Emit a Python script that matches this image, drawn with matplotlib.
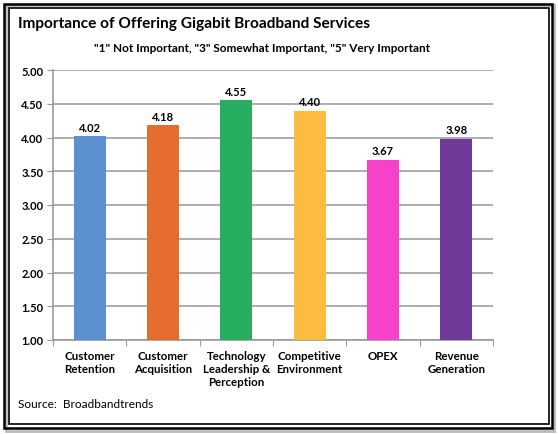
import matplotlib.pyplot as plt
from matplotlib.patches import Rectangle

categories = ["Customer\nRetention", "Customer\nAcquisition", "Technology\nLeadership &\nPerception",
              "Competitive\nEnvironment", "OPEX", "Revenue\nGeneration"]
scores = [4.02, 4.18, 4.55, 4.40, 3.67, 3.98]
colors = ["#5B8FD0", "#E36C2E", "#27AE60", "#FBBC41", "#F542C8", "#6F3A9A"]
yticks = [1.00, 1.50, 2.00, 2.50, 3.00, 3.50, 4.00, 4.50, 5.00]

plt.rcParams["font.family"] = ["Lato", "DejaVu Sans"]

W, H = 558, 435
fig = plt.figure(figsize=(W / 100, H / 100), dpi=100)
ax = fig.add_axes([53 / W, 1 - 341 / H, 440 / W, 270 / H])

x = range(len(categories))
ax.bar(x, [s - 1 for s in scores], bottom=1, width=0.44, color=colors, zorder=3)
for i, s in zip(x, scores):
    ax.text(i, s + 0.05, f"{s:.2f}", ha="center", va="bottom", fontsize=8, weight="bold")

ax.set_xlim(-0.5, len(categories) - 0.5)
ax.set_ylim(1, 5)
ax.set_yticks(yticks)
ax.set_yticklabels([f"{v:.2f}" for v in yticks], fontsize=8, weight="bold")
ax.set_xticks([i + 0.5 for i in range(len(categories) - 1)] + [-0.5, len(categories) - 0.5])
ax.set_xticklabels([])
ax.set_xticks(list(x), minor=True)
ax.set_xticklabels(categories, minor=True, fontsize=8.3, weight="bold", linespacing=1.25)
ax.tick_params(axis="x", which="minor", length=0, pad=7)
ax.tick_params(axis="x", which="major", length=4, color="#999999", direction="out")
ax.tick_params(axis="y", length=4, color="#999999", pad=3)
ax.yaxis.grid(True, color="#A0A0A0", linewidth=1.2, zorder=0)
for side in ("top", "right"):
    ax.spines[side].set_visible(False)
for side in ("left", "bottom"):
    ax.spines[side].set_color("#999999")
    ax.spines[side].set_linewidth(1.2)

fig.text(18 / W, 1 - 24 / H, "Importance of Offering Gigabit Broadband Services",
         fontsize=11.1, weight="bold", va="center", ha="left")
fig.text(262 / W, 1 - 49 / H, '"1" Not Important, "3" Somewhat Important, "5" Very Important',
         fontsize=8.5, weight="bold", va="center", ha="center")
fig.text(18 / W, 1 - 405 / H, "Source:  Broadbandtrends", fontsize=8.5, va="center", ha="left")

# double frame with a light shadow
fig.patches.append(Rectangle((6 / W, 3 / H), 548 / W, 426 / H, transform=fig.transFigure,
                             fill=False, edgecolor="#BBBBBB", linewidth=2))
fig.patches.append(Rectangle((4 / W, 6 / H), 548 / W, 424 / H, transform=fig.transFigure,
                             fill=False, edgecolor="black", linewidth=1.8))
fig.patches.append(Rectangle((8.5 / W, 10 / H), 540 / W, 416 / H, transform=fig.transFigure,
                             fill=False, edgecolor="black", linewidth=1.2))

fig.savefig("out.png", dpi=100)
